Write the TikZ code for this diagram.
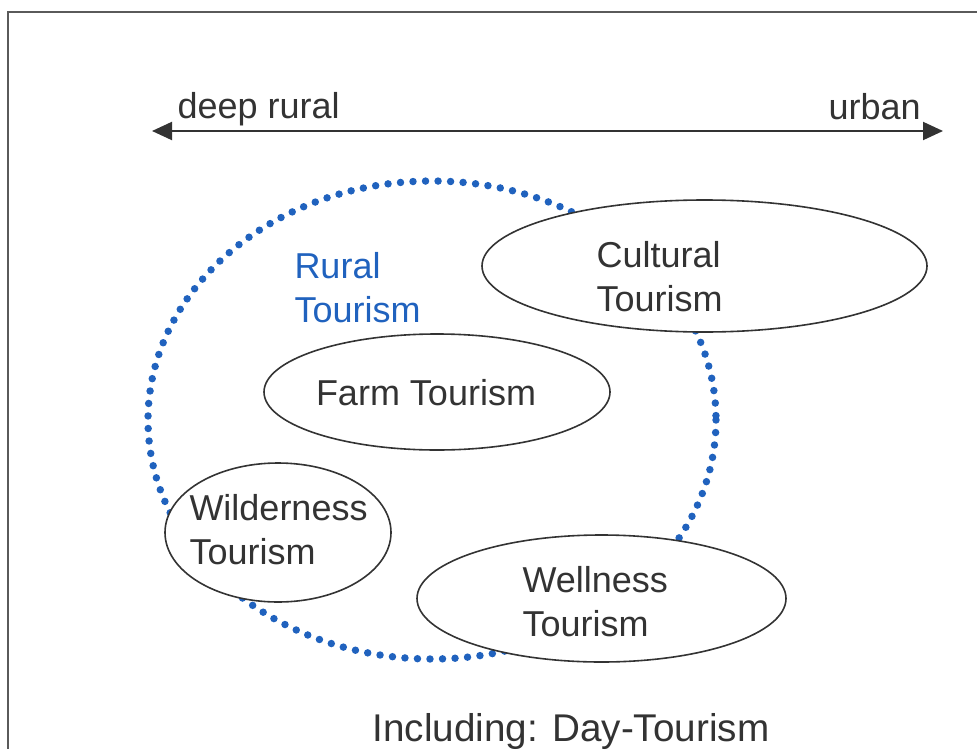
\documentclass[tikz,border=0pt]{standalone}
\usepackage{fontspec}
\setmainfont{Liberation Sans}
\usetikzlibrary{arrows.meta,shapes.geometric}
\definecolor{inkgray}{RGB}{51,51,51}
\definecolor{framegray}{RGB}{90,90,90}
\definecolor{ruralblue}{RGB}{32,98,190}
\tikzset{every picture/.style={line width=0.75pt}}

\begin{document}
\begin{tikzpicture}[x=0.75pt,y=0.75pt,yscale=-1,xscale=1,
	lbl/.style={inner sep=0pt, text=inkgray, font=\fontsize{27}{33}\selectfont},
	stack/.style={lbl, align=left, anchor=west},
	bubble/.style={ellipse, draw=inkgray, line width=1.2pt, fill=white, inner sep=0pt},
	dotted ring/.style={draw=ruralblue, line width=5.6pt, line cap=round, dash pattern=on 0pt off 9.4pt}]
		\path[use as bounding box] (0,0) rectangle (977,749);

		%Frame
		\draw[framegray, line width=1.5pt] (977,12) -| (8,749);

		%Straight Lines
		\coordinate (rural end) at (152,131);
		\coordinate (urban end) at (943,131);
		\draw[inkgray, line width=1.5pt, {Triangle[length=15pt,width=13.5pt]}-{Triangle[length=15pt,width=13.5pt]}] (rural end) -- (urban end);

		%Shape: Ellipse (dotted)
		\path[dotted ring] (432,420) ellipse [x radius=284, y radius=239];

		%Shape: Ellipse
		\node[bubble, minimum width=333.75pt, minimum height=99pt] (cultural) at (704.5,266) {};
		%Shape: Ellipse
		\node[bubble, minimum width=259.5pt, minimum height=87pt] (farm) at (437,392) {};
		%Shape: Ellipse
		\node[bubble, minimum width=169.5pt, minimum height=104.25pt] (wilderness) at (278,532.5) {};
		%Shape: Ellipse
		\node[bubble, minimum width=276.75pt, minimum height=95.25pt] (wellness) at (601.5,598.5) {};

		% Text Node
		\node[lbl, anchor=base west] (deep rural) at (177,118) {deep rural};
		% Text Node
		\node[lbl, anchor=base west] (urban) at (828,119) {urban};
		% Text Node
		\node[stack, text=ruralblue] (rural label) at (294,287.3) {Rural\\Tourism};
		% Text Node
		\node[stack] (cultural label) at (596,276.3) {Cultural\\Tourism};
		% Text Node
		\node[lbl, anchor=base] (farm label) at (426,405) {Farm Tourism};
		% Text Node
		\node[stack] (wilderness label) at (189,529.3) {Wilderness\\Tourism};
		% Text Node
		\node[stack] (wellness label) at (522,601.3) {Wellness\\Tourism};
		% Text Node
		\node[lbl, anchor=base west, font=\fontsize{29}{35}\selectfont] (day label) at (372,741) {Including: Day-Tourism};

\end{tikzpicture}
\end{document}
